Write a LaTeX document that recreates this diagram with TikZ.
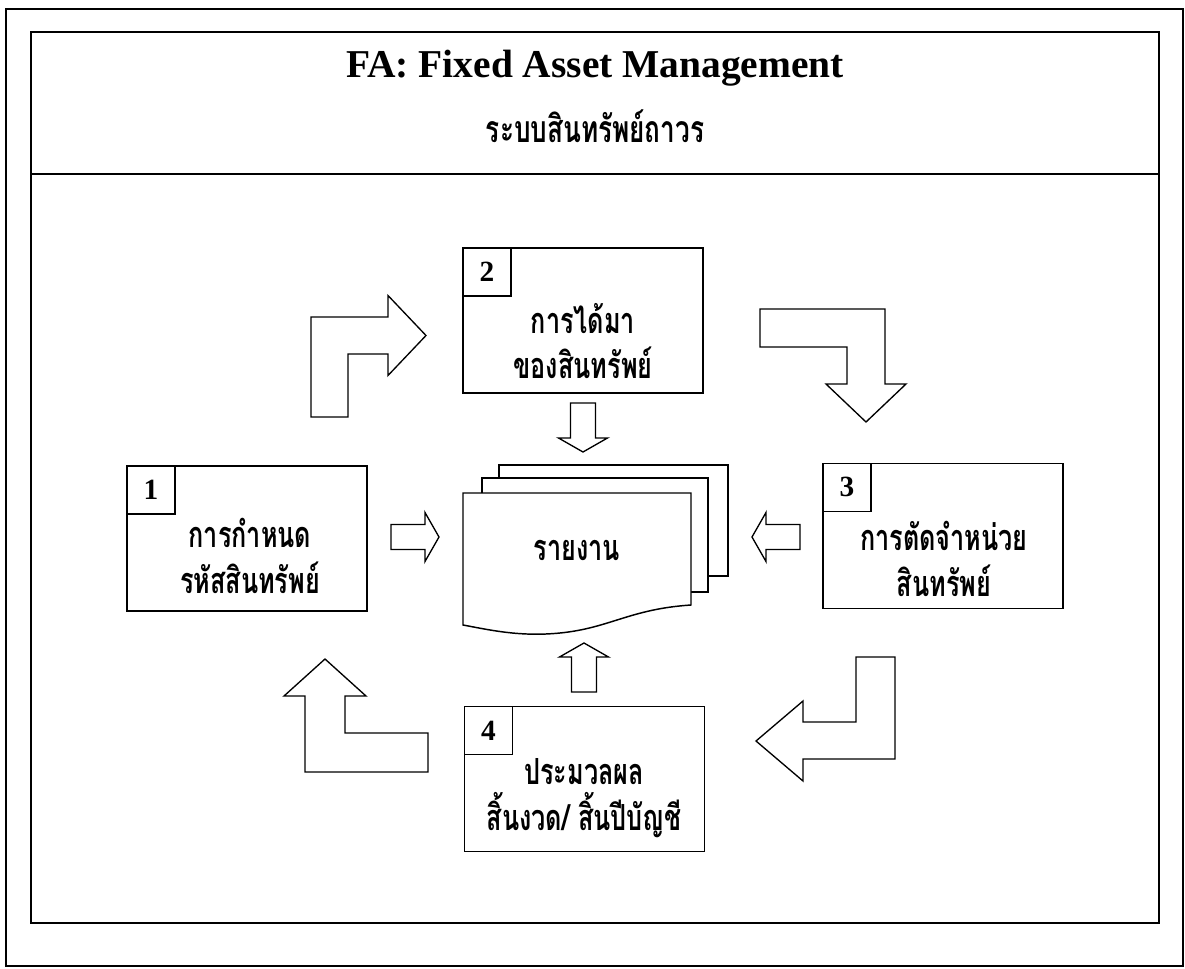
\documentclass[tikz,border=0pt]{standalone}
\usepackage{fontspec}
\setmainfont{Liberation Serif}
\newfontfamily\thaifont[Script=Thai, FakeStretch=0.7]{Loma}
\usetikzlibrary{positioning}
\tikzset{frame/.style={draw, line width=1.4pt}}
\tikzset{stage/.style={draw, line width=1.3pt, minimum width=180pt, minimum height=108.75pt, inner sep=0pt}}
\tikzset{numbox/.style={draw, line width=1.1pt, minimum size=36pt, inner sep=0pt, font=\fontsize{22}{24}\selectfont\bfseries}}
\tikzset{stagetext/.style={align=center, font=\thaifont\bfseries\fontsize{27}{34}\selectfont}}
\tikzset{page/.style={draw, fill=white, line width=1.1pt, inner sep=0pt}}
\tikzset{blockarrow/.style={draw, fill=white, line width=1pt, line join=miter}}

\begin{document}
\begin{tikzpicture}[x=0.75pt, y=-0.75pt]
        \useasboundingbox (0,0) rectangle (1185,968);
        % frames
        \draw[frame] (6,9) rectangle (1183,966);
        \draw[frame] (31,32) rectangle (1159,923);
        \draw[frame] (31,174) -- (1159,174);

        \node (title) at (595,68) {\fontsize{29.6}{32}\selectfont\bfseries FA: Fixed Asset Management};
        \node (subtitle) at (595,126) {\thaifont\bfseries\fontsize{28}{30}\selectfont ระบบสินทรัพย์ถาวร};

        % the four stages
        \node[stage] (s1) at (247,538.5) {};
        \node[stage] (s2) at (583,320.5) {};
        \node[stage] (s3) at (943,536) {};
        \node[stage] (s4) at (584.5,779) {};

        \node[numbox, below right=0pt of s1.north west] (n1) {1};
        \node[numbox, below right=0pt of s2.north west] (n2) {2};
        \node[numbox, below right=0pt of s3.north west] (n3) {3};
        \node[numbox, below right=0pt of s4.north west] (n4) {4};

        \node[stagetext] (t1) at (250,556) {การกำหนด\\รหัสสินทรัพย์};
        \node[stagetext] (t2) at (583,341) {การได้มา\\ของสินทรัพย์};
        \node[stagetext] (t3) at (944,559) {การตัดจำหน่วย\\สินทรัพย์};
        \node[stagetext] (t4) at (584,798) {ประมวลผล\\สิ้นงวด/ สิ้นปีบัญชี};

        % report stack
        \node[page, minimum width=171.75pt, minimum height=83.25pt] (pg3) at (613.5,520.5) {};
        \node[page, minimum width=169.5pt, minimum height=85.5pt] (pg2) at (595,535) {};
        \draw[page] (463,493) -- (691,493) -- (691,605)
            .. controls (630,609) and (610,628) .. (560,633)
            .. controls (520,637) and (490,630) .. (463,625) -- cycle;
        \node[stagetext] (rep) at (577,550) {รายงาน};

        % small arrows into the report
        \draw[blockarrow] (570.5,403) -- (595.5,403) -- (595.5,438) -- (607.5,438) -- (583,452)
            -- (558.5,438) -- (570.5,438) -- cycle;
        \draw[blockarrow] (571.5,692) -- (596.5,692) -- (596.5,657) -- (608.5,657) -- (584,643)
            -- (559.5,657) -- (571.5,657) -- cycle;
        \draw[blockarrow] (800,524.5) -- (766,524.5) -- (766,512.5) -- (752,537) -- (766,561.5)
            -- (766,549.5) -- (800,549.5) -- cycle;
        \draw[blockarrow] (391,524.5) -- (425,524.5) -- (425,512.5) -- (439,537) -- (425,561.5)
            -- (425,549.5) -- (391,549.5) -- cycle;

        % big bent arrows between the stages
        \draw[blockarrow] (311,417) -- (311,317) -- (388,317) -- (388,295.5) -- (426,335.5)
            -- (388,375.5) -- (388,354) -- (348,354) -- (348,417) -- cycle;
        \draw[blockarrow] (760,309) -- (885,309) -- (885,384) -- (906,384) -- (866,422)
            -- (826,384) -- (847,384) -- (847,347) -- (760,347) -- cycle;
        \draw[blockarrow] (895,657) -- (895,759) -- (803,759) -- (803,781) -- (756,741)
            -- (803,701) -- (803,722) -- (856,722) -- (856,657) -- cycle;
        \draw[blockarrow] (428,772) -- (305,772) -- (305,696) -- (284,696) -- (325,659)
            -- (366,696) -- (345,696) -- (345,733) -- (428,733) -- cycle;
\end{tikzpicture}
\end{document}
